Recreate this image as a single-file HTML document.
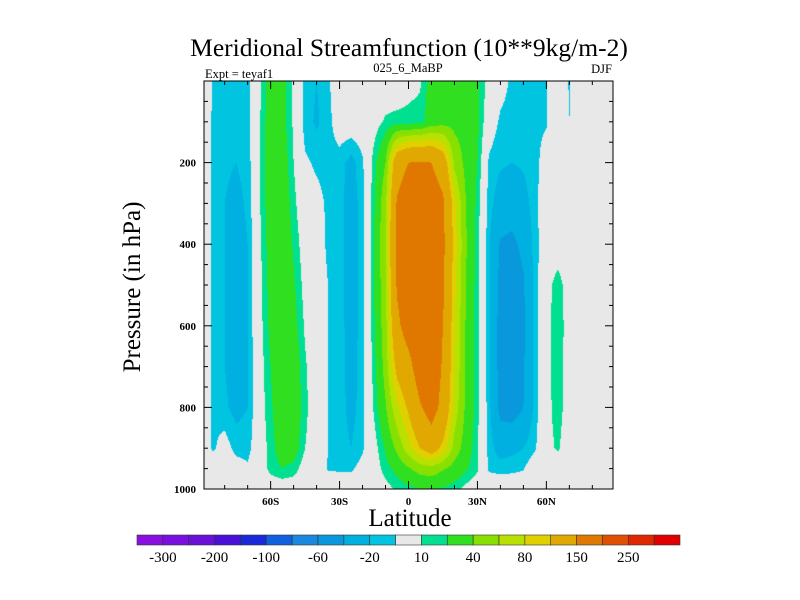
<!DOCTYPE html>
<html><head><meta charset="utf-8">
<style>
html,body{margin:0;padding:0;background:#fff;}
#wrap{position:relative;width:800px;height:600px;overflow:hidden;font-family:"Liberation Serif",serif;}
canvas{position:absolute;left:204px;top:81px;}
svg{position:absolute;left:0;top:0;}
</style></head><body>
<div id="wrap">
<canvas id="cv" width="409" height="408"></canvas>
<svg id="sv" width="800" height="600">
<text x="409" y="56" text-anchor="middle" font-size="25.5">Meridional Streamfunction (10**9kg/m-2)</text>
<text x="205" y="78" font-size="12.5">Expt = teyaf1</text>
<text x="408" y="72" text-anchor="middle" font-size="12.5">025_6_MaBP</text>
<text x="612" y="73" text-anchor="end" font-size="12.5">DJF</text>
<text x="410" y="526" text-anchor="middle" font-size="25">Latitude</text>
<text transform="translate(140,287) rotate(-90)" text-anchor="middle" font-size="25">Pressure (in hPa)</text>
</svg>
</div>
<script>
const lats=[-90,-85,-80,-75,-70,-65,-60,-55,-50,-45,-40,-35,-30,-25,-20,-15,-10,-5,0,5,10,15,20,25,30,35,40,45,50,55,60,65,70,75,80,85,90];
const levels=[0,100,200,300,400,500,600,700,800,900,950,1000];
const row0  =[0,-11,-14,-14,-14,6,28,25,8,-14,-20,-12,0,0,0,0,0,0,5,8,28,30,30,30,22,5,-5,-12,-14,-12,-11,0,-11,0,0,0,0];
const row100=[0,-12,-15,-15,-14,8,30,26,8,-15,-22,-14,-2,0,0,4,12,14,14,15,28,32,34,32,24,-2,-12,-14,-14,-12,-11,0,-10,0,0,0,0];
const row200=[0,-12,-18,-20,-16,8,32,30,10,-8,-12,-14,-15,-25,-12,15,40,130,150,152,150,125,55,34,20,-12,-18,-20,-18,-13,-5,0,0,0,0,0,0];
const row300=[0,-12,-20,-24,-18,8,30,32,14,-3,-6,-12,-15,-28,-14,18,55,155,178,180,178,158,85,40,16,-15,-28,-32,-26,-14,0,0,0,0,0,0,0];
const row400=[0,-12,-20,-26,-20,6,28,34,18,2,-4,-12,-14,-28,-14,20,58,160,182,186,182,160,90,42,15,-18,-42,-44,-36,-15,0,0,0,0,0,0,0];
const row500=[0,-12,-20,-26,-20,5,26,34,22,5,-3,-10,-14,-28,-14,20,55,155,182,186,182,158,85,40,13,-18,-46,-50,-42,-16,4,16,2,0,0,0,0];
const row600=[0,-12,-20,-26,-20,4,24,33,26,8,-3,-10,-14,-28,-14,18,52,140,172,186,182,150,82,38,13,-18,-48,-52,-44,-16,5,18,2,0,0,0,0];
const row700=[0,-12,-20,-25,-20,3,20,32,30,12,-2,-10,-14,-27,-14,15,48,110,135,178,182,145,78,38,13,-17,-48,-52,-42,-16,5,17,2,0,0,0,0];
const row800=[0,-12,-18,-24,-20,2,18,30,32,14,-2,-10,-14,-25,-14,12,38,75,105,145,172,135,72,36,13,-16,-46,-50,-40,-16,5,16,2,0,0,0,0];
const row900=[0,-12,-4,-14,-14,0,15,28,28,10,0,-10,-13,-20,-12,4,22,45,72,100,120,92,52,30,12,-14,-27,-24,-20,-12,5,12,0,0,0,0,0];
const row950=[0,0,0,-4,-8,0,14,20,16,2,-2,-11,-12,-12,-5,2,15,25,38,48,52,42,32,22,12,-12,-14,-13,-11,0,0,0,0,0,0,0,0];
const row1000=[0,0,0,0,0,0,0,0,0,0,0,0,0,0,0,2,5,12,16,20,20,18,14,6,0,0,0,0,0,0,0,0,0,0,0,0,0];
const rows=[row0,row100,row200,row300,row400,row500,row600,row700,row800,row900,row950,row1000];
const bounds=[-300,-250,-200,-150,-100,-80,-60,-40,-20,-10,10,20,40,60,80,100,150,200,250,300];
const colors=["#8a10e0","#7a10e0","#6a10d8","#4a10d8","#1a2ad8","#1060e0","#1a88e0","#0a98dc","#00b0e0","#00c4e0","#e8e8e8","#00e090","#30e020","#88e000","#b8e000","#e0d000","#e0a800","#e07800","#e05000","#e02800","#e00000"];
const cbLabels=["-300","-200","-100","-60","-20","10","40","80","150","250"];
const xTickVals=[-60,-30,0,30,60];
const xTickLabels=["60S","30S","0","30N","60N"];
const yTickVals=[200,400,600,800,1000];

const PL=204,PT=81,PW=409,PH=408;
const latMin=-89,latMax=89;
const X=l=>PL+(l-latMin)/(latMax-latMin)*PW;
const Y=p=>PT+p/1000*PH;
function bin(v){let i=0;while(i<bounds.length&&v>=bounds[i])i++;return i;}
function val(lat,p){
  let i=0;while(i<lats.length-2&&lat>lats[i+1])i++;
  let j=0;while(j<levels.length-2&&p>levels[j+1])j++;
  const tx=Math.min(1,Math.max(0,(lat-lats[i])/(lats[i+1]-lats[i])));
  const ty=Math.min(1,Math.max(0,(p-levels[j])/(levels[j+1]-levels[j])));
  const a=rows[j][i],b=rows[j][i+1],c=rows[j+1][i],d=rows[j+1][i+1];
  return (a*(1-tx)+b*tx)*(1-ty)+(c*(1-tx)+d*tx)*ty;
}
const cv=document.getElementById('cv');const ctx=cv.getContext('2d');
for(let py=0;py<PH;py++){
  const p=(py+0.5)/PH*1000;
  let start=0,cur=-1;
  for(let px=0;px<=PW;px++){
    const b=px<PW?bin(val(latMin+(px+0.5)/PW*(latMax-latMin),p)):-2;
    if(b!==cur){if(cur>=0){ctx.fillStyle=colors[cur];ctx.fillRect(start,py,px-start,1);}cur=b;start=px;}
  }
}
const NS='http://www.w3.org/2000/svg';const sv=document.getElementById('sv');
function mk(t,a){const e=document.createElementNS(NS,t);for(const k in a)e.setAttribute(k,a[k]);sv.appendChild(e);return e;}
let fr=mk('rect',{x:PL,y:PT,width:PW,height:PH,fill:'none',stroke:'#000','stroke-width':1});


for(let l=-80;l<=80;l+=10){
  const major=l%30===0;const len=major?8:4;const x=X(l);
  const t1=mk('line',{x1:x,x2:x,y1:PT+PH,y2:PT+PH-len,stroke:'#000'});
  
  
  const t2=mk('line',{x1:x,x2:x,y1:PT,y2:PT+len,stroke:'#000'});
  
  
}
xTickVals.forEach((v,k)=>{const t=mk('text',{x:X(v),y:505,'text-anchor':'middle','font-size':11,'font-weight':'bold'});t.textContent=xTickLabels[k];
  
  });
for(let p=50;p<1000;p+=50){
  const major=p%200===0;const len=major?8:4;const y=Y(p);
  const t1=mk('line',{x1:PL,x2:PL+len,y1:y,y2:y,stroke:'#000'});
  
  
  const t2=mk('line',{x1:PL+PW,x2:PL+PW-len,y1:y,y2:y,stroke:'#000'});
  
  
}
yTickVals.forEach(v=>{const t=mk('text',{x:196,y:Y(v)+4,'text-anchor':'end','font-size':11,'font-weight':'bold'});t.textContent=v;
  
  });
const cbL=137,cbR=680,cbT=535,cbH=10,bw=(cbR-cbL)/colors.length;
colors.forEach((c,k)=>{const r=mk('rect',{x:cbL+k*bw,y:cbT,width:bw,height:cbH,fill:c,stroke:'#333','stroke-width':0.6});
  
  });
cbLabels.forEach((s,k)=>{const t=mk('text',{x:cbL+(1+2*k)*bw,y:562,'text-anchor':'middle','font-size':15});t.textContent=s;
  
  });
</script>
</body></html>
